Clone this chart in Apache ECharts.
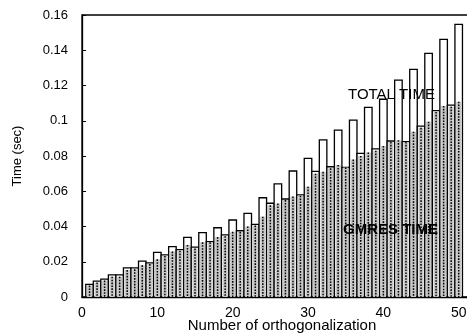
<!DOCTYPE html>
<html>
<head>
<meta charset="utf-8">
<script src="https://cdn.jsdelivr.net/npm/echarts@6/dist/echarts.min.js"></script>
<style>
  html, body { margin: 0; padding: 0; background: #fff; }
  #chart { width: 467px; height: 336px; }
</style>
</head>
<body>
<div id="chart"></div>
<script>
// Number of orthogonalizations (one bar per value)
const orthCounts = [1, 2, 3, 4, 5, 6, 7, 8, 9, 10,
  11, 12, 13, 14, 15, 16, 17, 18, 19, 20,
  21, 22, 23, 24, 25, 26, 27, 28, 29, 30,
  31, 32, 33, 34, 35, 36, 37, 38, 39, 40,
  41, 42, 43, 44, 45, 46, 47, 48, 49, 50];

// Total run time (sec)
const totalTime = [0.0072, 0.0090, 0.0101, 0.0125, 0.0125, 0.0165, 0.0165, 0.0203, 0.0194, 0.0253,
  0.0239, 0.0286, 0.0269, 0.0338, 0.0283, 0.0365, 0.0314, 0.0393, 0.0352, 0.0437,
  0.0376, 0.0475, 0.0412, 0.0563, 0.0532, 0.0642, 0.0556, 0.0715, 0.0580, 0.0787,
  0.0713, 0.0891, 0.0739, 0.0947, 0.0735, 0.1004, 0.0815, 0.1076, 0.0840, 0.1122,
  0.0885, 0.1231, 0.0881, 0.1292, 0.0970, 0.1382, 0.1057, 0.1462, 0.1089, 0.1547];

// Time spent in GMRES (sec)
const gmresTime = [0.0065, 0.0082, 0.0093, 0.0115, 0.0115, 0.0153, 0.0157, 0.0180, 0.0187, 0.0214,
  0.0233, 0.0258, 0.0263, 0.0295, 0.0275, 0.0310, 0.0310, 0.0340, 0.0345, 0.0370,
  0.0370, 0.0400, 0.0405, 0.0456, 0.0520, 0.0530, 0.0550, 0.0570, 0.0575, 0.0626,
  0.0700, 0.0710, 0.0730, 0.0749, 0.0735, 0.0780, 0.0800, 0.0820, 0.0830, 0.0857,
  0.0880, 0.0890, 0.0880, 0.0938, 0.0960, 0.0995, 0.1050, 0.1084, 0.1080, 0.1108];

const yTicks = ['0', '0.02', '0.04', '0.06', '0.08', '0.1', '0.12', '0.14', '0.16'];

const rows = orthCounts.map((n, i) => [n, totalTime[i], gmresTime[i]]);

const FONT = 'Liberation Sans, Arial, Helvetica, sans-serif';

// Each bar: outlined white column for the total time, with the GMRES
// portion drawn as a dotted column from the axis up to the GMRES time.
function renderBar(params, api) {
  const n = api.value(0);
  const base = api.coord([n, 0]);
  const top = api.coord([n, api.value(1)]);
  const mid = api.coord([n, api.value(2)]);
  const w = api.size([1, 0])[0];
  const left = base[0] - w / 2;
  return {
    type: 'group',
    children: [
      {
        type: 'rect',
        shape: { x: left, y: top[1], width: w, height: base[1] - top[1] },
        style: { fill: '#fff', stroke: '#000', lineWidth: 1.3 }
      },
      {
        type: 'rect',
        shape: { x: left + 1.2, y: mid[1], width: w - 2.4, height: base[1] - mid[1] },
        style: { fill: '#c8c8c8' }
      },
      {
        type: 'line',
        shape: { x1: base[0], y1: mid[1], x2: base[0], y2: base[1] },
        style: { stroke: '#000', lineWidth: 1.5, lineDash: [1.6, 1.3] }
      }
    ]
  };
}

const chart = echarts.init(document.getElementById('chart'), null, { renderer: 'canvas' });
chart.setOption({
  animation: false,
  backgroundColor: '#fff',
  grid: {
    left: 82, top: 15, bottom: 39, right: -3,
    outerBoundsMode: 'none',
    containLabel: false,
    show: true, borderColor: '#000', borderWidth: 1.3
  },
  xAxis: {
    type: 'value',
    min: 0, max: 51.5, interval: 10,
    name: 'Number of orthogonalization',
    nameLocation: 'middle',
    nameGap: 21,
    nameMoveOverlap: false,
    nameTextStyle: { color: '#000', fontFamily: FONT, fontSize: 15, padding: [0, 0, 0, 12] },
    axisLine: { show: true, lineStyle: { color: '#000', width: 1.3 } },
    axisTick: { show: true, inside: true, length: 4, lineStyle: { color: '#000' } },
    splitLine: { show: false },
    axisLabel: {
      color: '#000', fontFamily: FONT, fontSize: 14, margin: 9,
      formatter: v => (v % 10 === 0 ? String(v) : '')
    }
  },
  yAxis: {
    type: 'value',
    min: 0, max: 0.16, interval: 0.02,
    name: 'Time (sec)',
    nameLocation: 'middle',
    nameRotate: 90,
    nameGap: 58,
    nameMoveOverlap: false,
    nameTextStyle: { color: '#000', fontFamily: FONT, fontSize: 13 },
    axisLine: { show: true, lineStyle: { color: '#000', width: 1.3 } },
    axisTick: { show: true, inside: true, length: 4, lineStyle: { color: '#000' } },
    splitLine: { show: false },
    axisLabel: {
      color: '#000', fontFamily: FONT, fontSize: 13, margin: 14,
      formatter: v => yTicks[Math.round(v / 0.02)]
    }
  },
  series: [{
    type: 'custom',
    renderItem: renderBar,
    data: rows,
    encode: { x: 0, y: [1, 2] },
    clip: true,
    z: 2
  }],
  graphic: [
    {
      type: 'text', left: 348, top: 87, z: 100,
      style: { text: 'TOTAL TIME', fill: '#000', font: '15px ' + FONT }
    },
    {
      type: 'text', left: 343, top: 222, z: 100,
      style: { text: 'GMRES TIME', fill: '#000', font: 'bold 15px ' + FONT }
    }
  ]
});
</script>
</body>
</html>
